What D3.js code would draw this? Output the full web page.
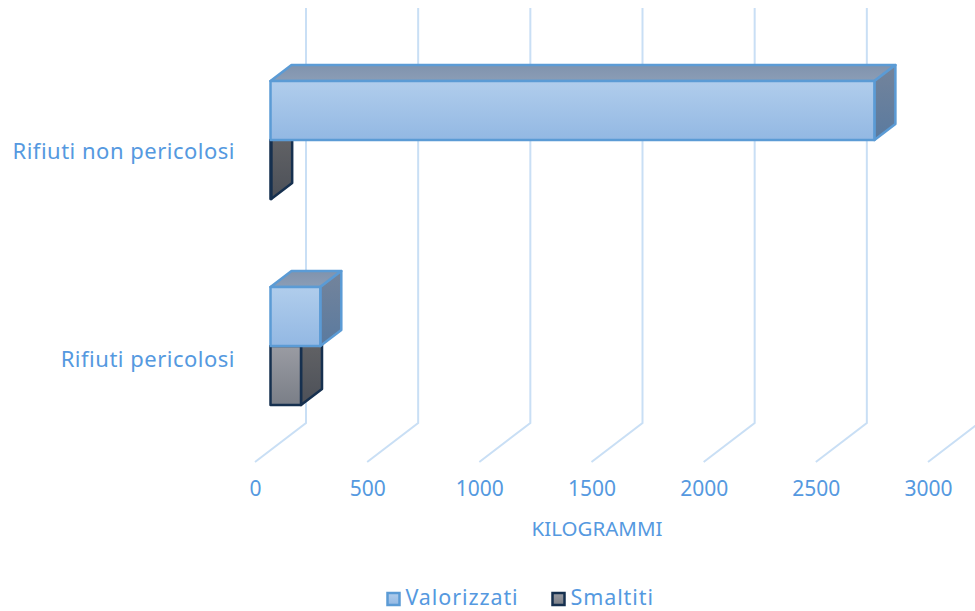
<!DOCTYPE html>
<html>
<head>
<meta charset="utf-8">
<script src="https://cdn.jsdelivr.net/npm/d3@7"></script>
<style>
  body { margin: 0; background: #fff; }
  svg { display: block; }
  text { font-family: "Noto Sans", sans-serif; fill: #5599e0; }
</style>
</head>
<body>
<div id="chart"></div>
<script>
const categories = ["Rifiuti non pericolosi", "Rifiuti pericolosi"];
const seriesNames = ["Valorizzati", "Smaltiti"];
const valorizzati = [2692, 222];
const smaltiti = [3, 136];
const xTicks = [0, 500, 1000, 1500, 2000, 2500, 3000];

const width = 975, height = 611;

// 3d box offsets: whole floor depth, where the bars sit in it, bar depth
const floor = { dx: 51, dy: -39 };
const gap = { dx: 15.5 };
const depth = { dx: 21, dy: -16 };

const svg = d3.select("#chart").append("svg")
  .attr("width", width)
  .attr("height", height);

const x = d3.scaleLinear().domain([0, 3000]).range([255, 928]);
const floorY = 462, topY = 47;

// category bands on the plane of the bar fronts, labels stay on the front of the floor
const y0 = d3.scaleBand().domain(categories).range([37, 449]);
const yLabel = d3.scaleBand().domain(categories).range([topY, floorY]);
const y1 = d3.scaleBand().domain(seriesNames).range([-59, 59]);

// gradients
const defs = svg.append("defs");
function gradient(id, c0, c1) {
  const g = defs.append("linearGradient").attr("id", id)
    .attr("x1", 0).attr("y1", 0).attr("x2", 0).attr("y2", 1);
  g.append("stop").attr("offset", "0%").attr("stop-color", c0);
  g.append("stop").attr("offset", "100%").attr("stop-color", c1);
}
gradient("valFront", "#b0cdec", "#93b8e3");
gradient("valSide", "#74849b", "#5a7a9f");
gradient("valTop", "#8093ad", "#8b9db6");
gradient("smaFront", "#9a9ca3", "#7a7e87");
gradient("smaSide", "#666668", "#4c5058");
gradient("smaTop", "#777a80", "#6a6d74");

const colors = {
  Valorizzati: { front: "url(#valFront)", side: "url(#valSide)", top: "url(#valTop)", stroke: "#5b9bd5" },
  Smaltiti: { front: "url(#smaFront)", side: "url(#smaSide)", top: "url(#smaTop)", stroke: "#16304f" },
};

// gridlines: floor diagonal then up the back wall
svg.append("g").selectAll("path")
  .data(xTicks)
  .join("path")
  .attr("d", (d) => {
    const path = d3.path();
    path.moveTo(x(d), floorY);
    path.lineTo(x(d) + floor.dx, floorY + floor.dy);
    path.lineTo(x(d) + floor.dx, topY + floor.dy);
    return path.toString();
  })
  .attr("fill", "none")
  .attr("stroke", "#c9dff5")
  .attr("stroke-width", 2);

// flatten to one record per bar, Smaltiti first since Valorizzati sits on top of it
const bars = [];
categories.forEach((c, i) => {
  bars.push({ category: c, series: "Smaltiti", value: smaltiti[i] });
});
categories.forEach((c, i) => {
  bars.push({ category: c, series: "Valorizzati", value: valorizzati[i] });
});

function poly(points) {
  return "M" + points.map((p) => p.join(",")).join("L") + "Z";
}

const barG = svg.append("g").selectAll("g")
  .data(bars)
  .join("g")
  .attr("stroke", (d) => colors[d.series].stroke)
  .attr("stroke-width", 2.5)
  .attr("stroke-linejoin", "round");

function corners(d) {
  const x0 = x(0) + gap.dx;
  const x1 = x(d.value) + gap.dx;
  const mid = y0(d.category) + y0.bandwidth() / 2;
  const top = mid + y1(d.series);
  const bot = top + y1.bandwidth();
  return { x0, x1, top, bot };
}

// top face
barG.append("path")
  .attr("d", (d) => {
    const c = corners(d);
    return poly([[c.x0, c.top], [c.x1, c.top], [c.x1 + depth.dx, c.top + depth.dy], [c.x0 + depth.dx, c.top + depth.dy]]);
  })
  .attr("fill", (d) => colors[d.series].top);

// right side face
barG.append("path")
  .attr("d", (d) => {
    const c = corners(d);
    return poly([[c.x1, c.top], [c.x1 + depth.dx, c.top + depth.dy], [c.x1 + depth.dx, c.bot + depth.dy], [c.x1, c.bot]]);
  })
  .attr("fill", (d) => colors[d.series].side);

// front face
barG.append("rect")
  .attr("x", (d) => corners(d).x0)
  .attr("y", (d) => corners(d).top)
  .attr("width", (d) => corners(d).x1 - corners(d).x0)
  .attr("height", y1.bandwidth())
  .attr("fill", (d) => colors[d.series].front);

// axes
const xAxis = svg.append("g")
  .attr("transform", "translate(0,481)")
  .call(d3.axisBottom(x).tickValues(xTicks).tickFormat(d3.format("d")).tickSize(0).tickPadding(0));
xAxis.select(".domain").remove();
xAxis.selectAll("text").style("font-size", "21px").attr("fill", null).attr("dy", "0.71em");

const yAxis = svg.append("g")
  .attr("transform", "translate(235,0)")
  .call(d3.axisLeft(yLabel).tickSize(0).tickPadding(0));
yAxis.select(".domain").remove();
yAxis.selectAll("text")
  .style("font-size", "22px")
  .style("letter-spacing", "0.5px")
  .attr("fill", null)
  .attr("dy", "0.39em");

svg.append("text")
  .attr("x", 597)
  .attr("y", 536)
  .attr("text-anchor", "middle")
  .style("font-size", "20.5px")
  .text("KILOGRAMMI");

// legend
const legend = svg.append("g").selectAll("g")
  .data(seriesNames)
  .join("g")
  .attr("transform", (d, i) => `translate(${[387.5, 552.5][i]},593)`);

legend.append("rect")
  .attr("width", 12)
  .attr("height", 12)
  .attr("fill", (d) => colors[d].front)
  .attr("stroke", (d) => colors[d].stroke)
  .attr("stroke-width", 2.5);

legend.append("text")
  .attr("x", 18)
  .attr("y", 11.7)
  .style("font-size", "21.5px")
  .style("letter-spacing", "0.9px")
  .text((d) => d);
</script>
</body>
</html>
